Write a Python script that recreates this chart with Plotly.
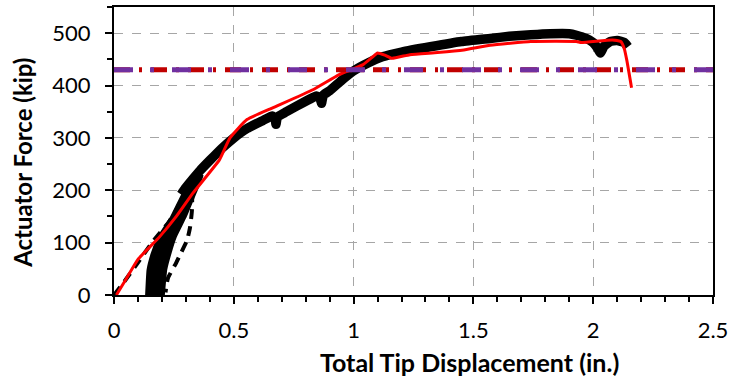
import plotly.graph_objects as go

# --- data ---
# black cyclic test envelope (thick band)
env_x = [0.28, 0.30, 0.33, 0.36, 0.40, 0.45, 0.50, 0.555, 0.62, 0.66, 0.672, 0.676, 0.682, 0.72, 0.80,
         0.845, 0.860, 0.866, 0.874, 0.90, 0.95, 1.00, 1.06, 1.12, 1.20, 1.32, 1.45, 1.57, 1.65,
         1.74, 1.82, 1.90, 1.93, 1.97, 2.00, 2.02, 2.03, 2.045, 2.07, 2.10, 2.13, 2.145]
env_y = [192, 205, 222, 238, 257, 280, 300, 318, 333, 342, 338, 326, 340, 350, 370,
         380, 376, 366, 382, 390, 410, 428, 443, 455, 464, 474, 484, 490, 494,
         497, 499, 499, 496, 490, 482, 470, 462, 475, 484, 486, 482, 474]

# black filled wedge of initial cycles near the origin
wedge_x = [0.134, 0.140, 0.158, 0.185, 0.238, 0.288, 0.33, 0.37, 0.345, 0.300, 0.258, 0.236, 0.218, 0.208]
wedge_y = [0, 48, 80, 111, 149, 195, 222, 228, 200, 150, 111, 80, 48, 0]

# black dashed curve (load / unload)
dash_x = [0.0, 0.05, 0.10, 0.16, 0.23, 0.28, 0.31, 0.322, 0.326, 0.325, 0.317, 0.305, 0.275, 0.259, 0.225, 0.215]
dash_y = [0, 30, 62, 101, 140, 178, 198, 204, 195, 160, 128, 105, 76, 61, 32, 5]

# red analytical curve
red_x = [0.01, 0.05, 0.10, 0.19, 0.26, 0.33, 0.44, 0.484, 0.555, 0.66, 0.83, 0.94, 1.04, 1.08,
         1.10, 1.13, 1.16, 1.235, 1.35, 1.46, 1.57, 1.74, 1.93, 1.95, 2.08, 2.115, 2.13, 2.14, 2.16]
red_y = [0, 30, 68, 111, 150, 195, 258, 300, 335, 357, 392, 421, 440, 455,
         462, 458, 452, 459, 463, 468, 477, 484, 484, 482, 487, 484, 470, 449, 396]

# horizontal reference capacities
ref_x = [0, 2.5]
ref_red_y = [430, 430]
ref_purple_y = [430, 430]

x_ticks = [0, 0.5, 1, 1.5, 2, 2.5]
x_tick_text = ["0", "0.5", "1", "1.5", "2", "2.5"]
y_ticks = [0, 100, 200, 300, 400, 500]

fig = go.Figure()

fig.add_trace(go.Scatter(x=wedge_x, y=wedge_y, mode="lines", fill="toself",
                         fillcolor="black", line=dict(color="black", width=2, shape="spline", smoothing=0.3),
                         hoverinfo="skip", showlegend=False))
fig.add_trace(go.Scatter(x=env_x, y=env_y, mode="lines",
                         line=dict(color="black", width=9.5, shape="spline", smoothing=0.4),
                         showlegend=False))
fig.add_trace(go.Scatter(x=dash_x, y=dash_y, mode="lines",
                         line=dict(color="black", width=4, dash="10px,7px", shape="spline", smoothing=0.5),
                         showlegend=False))
fig.add_trace(go.Scatter(x=red_x, y=red_y, mode="lines",
                         line=dict(color="#FF0000", width=3, shape="spline", smoothing=0.4),
                         showlegend=False))
fig.add_trace(go.Scatter(x=ref_x, y=ref_red_y, mode="lines",
                         line=dict(color="#C00000", width=5, dash="16px,9px,3px,9px"),
                         showlegend=False))
fig.add_trace(go.Scatter(x=ref_x, y=ref_purple_y, mode="lines",
                         line=dict(color="#7030A0", width=5, dash="19px,17px,4px,18px"),
                         showlegend=False))

tick_font = dict(family="Lato, 'Open Sans', sans-serif", size=22, color="black")

fig.update_xaxes(range=[0, 2.5], tickvals=x_ticks, ticktext=x_tick_text,
                 showline=True, linecolor="black", linewidth=2, mirror=True,
                 ticks="outside", ticklen=7, tickwidth=2, tickcolor="black",
                 minor=dict(dtick=0.1, ticks="outside", ticklen=5, tickwidth=1.5,
                            tickcolor="black", showgrid=False),
                 showgrid=True, gridcolor="#A6A6A6", gridwidth=1, griddash="dash",
                 zeroline=False, tickfont=tick_font, ticklabelstandoff=8, automargin=False)
fig.update_yaxes(range=[0, 550], tickvals=y_ticks,
                 showline=True, linecolor="black", linewidth=2, mirror=True,
                 ticks="outside", ticklen=7, tickwidth=2, tickcolor="black",
                 minor=dict(dtick=50, ticks="outside", ticklen=5, tickwidth=1.5,
                            tickcolor="black", showgrid=False),
                 showgrid=True, gridcolor="#A6A6A6", gridwidth=1, griddash="dash",
                 zeroline=False, tickfont=tick_font, ticklabelstandoff=10, automargin=False)

fig.add_annotation(text="<b>Total Tip Displacement (in.)</b>", xref="paper", yref="paper",
                   x=0.593, y=-0.233, xanchor="center", yanchor="middle", showarrow=False,
                   font=dict(family="Lato, 'Open Sans', sans-serif", size=25, color="black"))
fig.add_annotation(text="<b>Actuator Force (kip)</b>", xref="paper", yref="paper",
                   x=-0.154, y=0.458, xanchor="center", yanchor="middle", textangle=-90,
                   showarrow=False,
                   font=dict(family="Lato, 'Open Sans', sans-serif", size=24, color="black"))

fig.update_layout(width=732, height=381, margin=dict(l=114, r=19, t=7, b=86),
                  plot_bgcolor="white", paper_bgcolor="white", showlegend=False)

fig.write_html("out.html", config={"displayModeBar": False},
               post_script="document.body.style.margin='0';")
